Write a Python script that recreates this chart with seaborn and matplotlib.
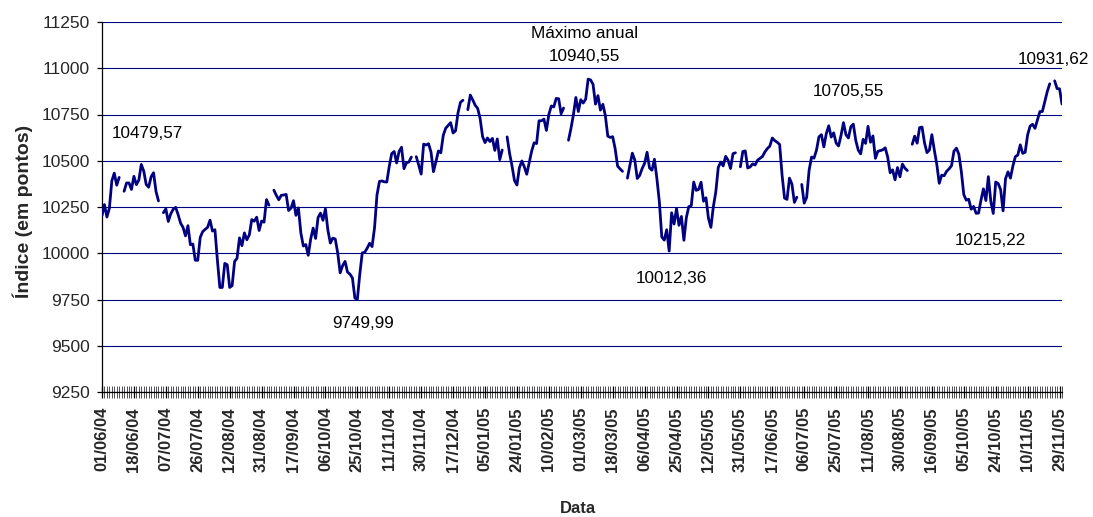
import numpy as np
import pandas as pd
import matplotlib
matplotlib.use("Agg")
import matplotlib.pyplot as plt
import seaborn as sns
from matplotlib.ticker import FixedLocator, MultipleLocator

# ---- data: daily closing values (business-day categories), NaN = market closed ----
jun_2004_a = [10203, 10263, 10196, 10243, 10391, 10433, 10368, 10410]
jun_2004_b = [10335, 10380, 10380, 10345, 10416, 10371, 10395, 10480, 10444, 10372,
              10357, 10413, 10435, 10334, 10283]
jul_sep_2004 = [10219, 10240, 10172, 10213, 10238, 10248, 10209, 10163, 10140, 10094,
                10149, 10046, 10050, 9962, 9962, 10085, 10117, 10129, 10140, 10179,
                10120, 10127, 9963, 9815, 9815, 9945, 9938, 9815, 9825, 9955,
                9973, 10083, 10041, 10110, 10073, 10099, 10182, 10173, 10195, 10123,
                10174, 10168, 10290, 10260]
sep_nov_2004 = [10341, 10313, 10289, 10313, 10315, 10318, 10231, 10244, 10284, 10205,
                10245, 10109, 10039, 10047, 9989, 10077, 10136, 10080, 10193, 10217,
                10178, 10240, 10125, 10055, 10082, 10077, 10002, 9894, 9933, 9956,
                9898, 9887, 9866, 9758, 9750, 9888, 10002, 10005, 10027, 10054,
                10036, 10137, 10315, 10388, 10391, 10386, 10385, 10470, 10539, 10550,
                10488, 10550, 10573, 10457, 10489, 10493, 10520]
nov_dec_2004 = [10522, 10476, 10428, 10590, 10585, 10592, 10547, 10441, 10494, 10553,
                10543, 10638, 10676, 10691, 10706, 10650, 10662, 10759, 10816, 10827]
dec_jan_2005 = [10776, 10855, 10829, 10800, 10783, 10729, 10631, 10598, 10623, 10604,
                10621, 10556, 10618, 10506, 10558]
jan_feb_2005 = [10629, 10540, 10471, 10393, 10369, 10462, 10499, 10467, 10427, 10490,
                10552, 10597, 10593, 10716, 10716, 10725, 10664, 10750, 10796, 10791,
                10837, 10835, 10754, 10785]
feb_mar_2005 = [10611, 10674, 10749, 10842, 10766, 10830, 10812, 10833, 10941, 10937,
                10913, 10806, 10852, 10774, 10805, 10745, 10633, 10626, 10630, 10565,
                10471, 10456, 10443]
mar_may_2005 = [10406, 10475, 10541, 10504, 10404, 10421, 10458, 10486, 10546, 10461,
                10449, 10508, 10404, 10279, 10088, 10071, 10127, 10012, 10219, 10158,
                10242, 10151, 10199, 10070, 10193, 10252, 10257, 10385, 10340, 10345,
                10384, 10281, 10300, 10189, 10140, 10252, 10332, 10464, 10493, 10472,
                10524, 10503, 10458, 10538, 10543]
may_jul_2005 = [10467, 10550, 10553, 10461, 10467, 10483, 10477, 10503, 10513, 10523,
                10548, 10566, 10579, 10623, 10609, 10600, 10588, 10421, 10298, 10291,
                10406, 10374, 10275, 10303]
jul_sep_2005 = [10372, 10271, 10302, 10449, 10520, 10514, 10557, 10629, 10641, 10575,
                10647, 10689, 10628, 10651, 10596, 10580, 10637, 10706, 10641, 10623,
                10684, 10698, 10610, 10558, 10537, 10616, 10594, 10686, 10600, 10634,
                10513, 10551, 10555, 10559, 10570, 10520, 10435, 10451, 10397, 10463,
                10413, 10482, 10460, 10447]
sep_nov_2005 = [10589, 10633, 10595, 10679, 10682, 10597, 10544, 10558, 10641, 10557,
                10481, 10378, 10422, 10419, 10443, 10456, 10473, 10552, 10568, 10535,
                10441, 10317, 10287, 10292, 10238, 10253, 10216, 10217, 10287, 10348,
                10285, 10414, 10281, 10215, 10385, 10377, 10344, 10229, 10403, 10440,
                10406, 10472, 10522, 10531, 10586, 10540, 10546, 10640, 10687, 10697,
                10675, 10721, 10766, 10766, 10820, 10874, 10916]
nov_2005_end = [10932, 10890, 10889, 10806]

segments = [jun_2004_a, jun_2004_b, jul_sep_2004, sep_nov_2004, nov_dec_2004,
            dec_jan_2005, jan_feb_2005, feb_mar_2005, mar_may_2005, may_jul_2005,
            jul_sep_2005, sep_nov_2005, nov_2005_end]

tick_labels = ["01/06/04", "18/06/04", "07/07/04", "26/07/04", "12/08/04", "31/08/04",
               "17/09/04", "06/10/04", "25/10/04", "11/11/04", "30/11/04", "17/12/04",
               "05/01/05", "24/01/05", "10/02/05", "01/03/05", "18/03/05", "06/04/05",
               "25/04/05", "12/05/05", "31/05/05", "17/06/05", "06/07/05", "25/07/05",
               "11/08/05", "30/08/05", "16/09/05", "05/10/05", "24/10/05", "10/11/05",
               "29/11/05"]
label_every = 13

annotation_texts = ["10479,57", "Máximo anual", "10940,55", "9749,99",
                    "10012,36", "10705,55", "10215,22", "10931,62"]

# ---- build series ----
closes = []
for k, seg in enumerate(segments):
    if k > 0:
        closes.append(np.nan)
    closes.extend(seg)
n = len(closes)
df = pd.DataFrame({"dia": np.arange(n), "indice": closes})
df["trecho"] = df["indice"].isna().cumsum()
df = df.dropna()

# ---- style ----
sns.set_style("white")
plt.rcParams["font.family"] = ["Liberation Sans", "DejaVu Sans"]
navy = "#000080"

W, H = 1093, 517
fig = plt.figure(figsize=(W / 100, H / 100), dpi=100)
ax = fig.add_axes([102 / W, 1 - 392 / H, 960 / W, 370 / H])

sns.lineplot(data=df, x="dia", y="indice", units="trecho", estimator=None,
             color=navy, linewidth=2.0, ax=ax, legend=False, zorder=3)

ax.set_xlim(0, n - 1)
ax.set_ylim(9250, 11250)
ax.set_yticks(np.arange(9250, 11251, 250))
ax.yaxis.grid(True, color=navy, linewidth=0.8)
ax.xaxis.grid(False)
ax.set_axisbelow(True)

for s in ["top", "right"]:
    ax.spines[s].set_visible(False)
for s in ["left", "bottom"]:
    ax.spines[s].set_color("black")
    ax.spines[s].set_linewidth(0.9)

ax.xaxis.set_major_locator(FixedLocator(np.arange(0, n, label_every)[:len(tick_labels)]))
ax.set_xticklabels(tick_labels, rotation=90, fontsize=12, fontweight="bold", va="top")
ax.xaxis.set_minor_locator(MultipleLocator(1))
ax.tick_params(axis="x", which="major", direction="inout", length=9, width=0.9,
               color="black", pad=6.3, bottom=True)
ax.tick_params(axis="x", which="minor", direction="inout", length=8, width=0.6,
               color="#333333", bottom=True)
ax.tick_params(axis="y", which="major", direction="out", length=3.6, width=0.9,
               color="black", labelsize=12.5, pad=5.3, left=True)

ax.set_xlabel("")
ax.set_ylabel("")

# annotations
ann_pos = [(18.3, 10645), (196.5, 11189), (196.5, 11066), (106.5, 9621),
           (231.8, 9861), (303.9, 10873), (361.7, 10068), (387.4, 11048)]
for txt, (x, y) in zip(annotation_texts, ann_pos):
    ax.text(x, y, txt, ha="center", va="center", fontsize=12.3, color="black",
            clip_on=False)

fig.text(22.5 / W, 1 - 211 / H, "Índice (em pontos)", rotation=90, ha="center",
         va="center", fontsize=14, fontweight="bold")
fig.text(578 / W, 1 - 508.5 / H, "Data", ha="center", va="center", fontsize=12,
         fontweight="bold")

fig.savefig("out.png", dpi=100, facecolor="white")
